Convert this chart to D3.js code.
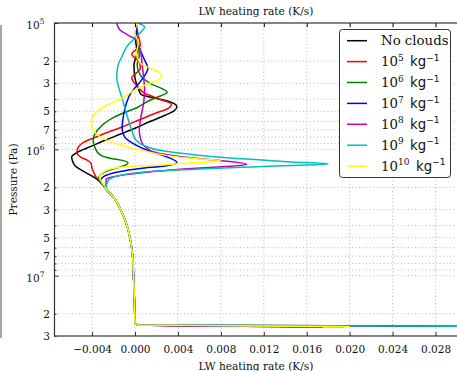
<!DOCTYPE html>
<html>
<head>
<meta charset="utf-8">
<script src="https://cdn.jsdelivr.net/npm/d3@7"></script>
<style>
  body { margin: 0; background: #fff; }
  svg { display: block; font-family: "DejaVu Serif", serif; }
</style>
</head>
<body>
<svg width="457" height="371"></svg>
<script>
// Each profile: [pressure (Pa), LW heating rate (K/s)], top to bottom
const noClouds = [[1.0e5, 0.0001], [1.36e5, 0.00005], [1.70e5, 0.0002], [2.15e5, -0.0001], [2.73e5, 0.0],
  [3.28e5, 0.0003], [3.66e5, 0.00055], [3.94e5, 0.0019], [4.16e5, 0.0031], [4.6e5, 0.0039], [4.99e5, 0.0036],
  [5.37e5, 0.0028], [6.02e5, 0.0014], [6.81e5, 0.0], [7.6e5, -0.0014], [8.48e5, -0.0028], [9.38e5, -0.004],
  [1.037e6, -0.0052], [1.15e6, -0.0059], [1.25e6, -0.0058], [1.34e6, -0.0056], [1.509e6, -0.0047],
  [1.70e6, -0.00365], [1.83e6, -0.0032]];
const cloud1e5 = [[1.0e5, 0.0001], [1.245e5, 0.0003], [1.495e5, 0.0005], [1.76e5, -0.0003], [2.04e5, 0.0004],
  [2.28e5, 0.0005], [2.73e5, -0.0003], [3.16e5, 0.0002], [3.59e5, 0.0009], [4.01e5, 0.0023], [4.4e5, 0.0034],
  [4.73e5, 0.0031], [5.18e5, 0.0019], [5.89e5, 0.0003], [6.65e5, -0.0012], [7.46e5, -0.0028], [8.03e5, -0.0037],
  [8.79e5, -0.0048], [9.64e5, -0.0053], [1.057e6, -0.0054], [1.147e6, -0.0051], [1.211e6, -0.0045],
  [1.291e6, -0.0041], [1.415e6, -0.004], [1.549e6, -0.0038], [1.668e6, -0.0036], [1.762e6, -0.0033]];
const cloud1e6 = [[1.0e5, 0.0001], [1.36e5, 0.0002], [1.795e5, 0.0004], [2.15e5, 0.0002], [2.59e5, 0.0005],
  [3.0e5, 0.0014], [3.34e5, 0.0026], [3.53e5, 0.003], [3.8e5, 0.0023], [4.085e5, 0.0014], [4.62e5, 0.0003],
  [5.54e5, -0.0019], [7.07e5, -0.0035], [8.48e5, -0.0039], [9.82e5, -0.0037], [1.096e6, -0.0033],
  [1.178e6, -0.0023], [1.222e6, -0.0012], [1.28e6, -0.00065], [1.364e6, -0.0012], [1.468e6, -0.0025],
  [1.579e6, -0.0032], [1.70e6, -0.0034]];
const cloud1e7 = [[1.0e5, 0.0001], [1.36e5, 0.0002], [1.64e5, 0.0005], [1.97e5, 0.0009], [2.28e5, 0.0012],
  [2.68e5, 0.0008], [3.05e5, 0.0003], [3.59e5, -0.0004], [4.32e5, -0.0008], [5.57e5, -0.0011], [6.81e5, -0.0012],
  [7.88e5, -0.001], [8.96e5, -0.0002], [1.037e6, 0.0014], [1.157e6, 0.0031], [1.268e6, 0.0039], [1.352e6, 0.0028],
  [1.415e6, 0.0005], [1.509e6, -0.0016], [1.638e6, -0.0029], [1.762e6, -0.0032]];
const cloud1e8 = [[1.0e5, -0.0017], [1.137e5, -0.0014], [1.245e5, -0.00065], [1.364e5, 0.0001], [1.637e5, 0.0005],
  [2.077e5, 0.00065], [2.683e5, 0.0008], [3.40e5, 0.0009], [4.315e5, 0.0008], [5.57e5, 0.00055], [7.07e5, 0.0004],
  [8.48e5, 0.00055], [1.018e6, 0.0014], [1.147e6, 0.0045], [1.222e6, 0.0077], [1.315e6, 0.0104], [1.377e6, 0.0077],
  [1.428e6, 0.0045], [1.509e6, 0.0014], [1.608e6, -0.0014], [1.73e6, -0.0027]];
const cloud1e9 = [[1.0e5, 0.0003], [1.076e5, 0.0009], [1.179e5, 0.00055], [1.291e5, 0.0001], [1.495e5, -0.00065],
  [1.828e5, -0.0012], [2.194e5, -0.0016], [2.683e5, -0.0017], [3.28e5, -0.0015], [3.94e5, -0.0012],
  [5.37e5, -0.00075], [7.07e5, -0.0003], [8.48e5, 0.0001], [9.38e5, 0.0009], [1.018e6, 0.0023], [1.116e6, 0.0061],
  [1.20e6, 0.0108], [1.257e6, 0.0145], [1.303e6, 0.018], [1.34e6, 0.0145], [1.377e6, 0.0108], [1.428e6, 0.0061],
  [1.495e6, 0.0014], [1.608e6, -0.0014], [1.762e6, -0.0025]];
const cloud1e10 = [[1.0e5, 0.00015], [1.20e5, 0.0], [1.441e5, 0.0003], [1.73e5, 0.00015], [2.077e5, 0.0005],
  [2.276e5, 0.0014], [2.448e5, 0.0022], [2.587e5, 0.0025], [2.835e5, 0.0021], [3.107e5, 0.0009],
  [3.497e5, -0.0003], [3.94e5, -0.0012], [4.56e5, -0.0028], [5.18e5, -0.0037], [6.10e5, -0.0041],
  [7.20e5, -0.0038], [8.33e5, -0.0028], [9.29e5, -0.0012], [1.018e6, 0.00065], [1.116e6, 0.0029],
  [1.178e6, 0.0052], [1.233e6, 0.008], [1.291e6, 0.0045], [1.34e6, 0.0014], [1.364e6, -0.0005],
  [1.428e6, -0.0023], [1.549e6, -0.0031], [1.638e6, -0.0033]];
// lower atmosphere, the same for every case
const lowerLevels = [[2.04e6, -0.0027], [2.45e6, -0.0019], [3.05e6, -0.0013], [3.8e6, -0.00084], [5.0e6, -0.00047],
  [6.9e6, -0.00023], [1.0e7, -0.00014], [1.58e7, -0.00005], [2.36e7, 0.0], [2.45e7, 0.0002]];
// value at the lowest level (surface spike)
const surfacePressure = 2.54e7;
const surfaceRates = [0.04, 0.0175, 0.0195, 0.0175, 0.0175, 0.04, 0.020];

const profiles = [noClouds, cloud1e5, cloud1e6, cloud1e7, cloud1e8, cloud1e9, cloud1e10];
const exponents = [null, 5, 6, 7, 8, 9, 10];
const colors = ["#000000", "#ff0000", "#008000", "#0000ff", "#bf00bf", "#00bfbf", "#ffff00"];
const xTicks = [-0.004, 0.000, 0.004, 0.008, 0.012, 0.016, 0.020, 0.024, 0.028];

const svg = d3.select("svg");
const plotL = 54.5, plotR = 457, plotT = 23, plotB = 336;

let x = d3.scaleLinear().domain([-0.0075, 0.030]).range([plotL, plotR]);
let y = d3.scaleLog().domain([1e5, 3e7]).range([plotT, plotB]);
let yTicks = y.ticks();
let mant = d => Math.round(d / Math.pow(10, Math.floor(Math.log10(d) + 1e-9)));

// odd grey bar on the far left of the figure
svg.append("line")
  .attr("x1", 1).attr("x2", 1).attr("y1", 25).attr("y2", 338)
  .attr("stroke", "#888").attr("stroke-width", 1.5);

// dotted grid
let grid = svg.append("g")
  .attr("stroke", "#b8b8b8").attr("stroke-width", 1).attr("stroke-dasharray", "1,2.5");
grid.selectAll(".gx").data(xTicks).join("line")
  .attr("x1", d => x(d)).attr("x2", d => x(d)).attr("y1", plotT).attr("y2", plotB);
grid.selectAll(".gy").data(yTicks.filter(d => d > 1e5 && d < 3e7)).join("line")
  .attr("x1", plotL).attr("x2", plotR).attr("y1", d => y(d)).attr("y2", d => y(d));

// profiles
svg.append("clipPath").attr("id", "clip")
  .append("rect").attr("x", plotL).attr("y", plotT).attr("width", plotR - plotL).attr("height", plotB - plotT);

let line = d3.line()
  .x(d => x(d[1]))
  .y(d => y(d[0]))
  .curve(d3.curveMonotoneY);

let series = profiles.map((p, i) => p.concat(lowerLevels, [[surfacePressure, surfaceRates[i]]]));

svg.append("g").attr("clip-path", "url(#clip)")
  .selectAll("path").data(series).join("path")
  .attr("fill", "none")
  .attr("stroke", (d, i) => colors[i])
  .attr("stroke-width", 1.5)
  .attr("d", line);

// axes (ticks point inward)
let fmtX = d => (d < 0 ? "\u2212" : "") + Math.abs(d).toFixed(3);
let xAxis = svg.append("g").attr("transform", "translate(0," + plotB + ")")
  .call(d3.axisBottom(x).tickValues(xTicks).tickSize(-4).tickSizeOuter(0).tickPadding(10).tickFormat(fmtX));
svg.append("g").attr("transform", "translate(0," + plotT + ")")
  .call(d3.axisTop(x).tickValues(xTicks).tickSize(-4).tickSizeOuter(0).tickFormat(""));

let yAxis = svg.append("g").attr("transform", "translate(" + plotL + ",0)")
  .call(d3.axisLeft(y).tickValues(yTicks).tickSize(-2).tickSizeOuter(0).tickPadding(4.5)
    .tickFormat(d => [2, 3, 5, 7].includes(mant(d)) ? String(mant(d)) : ""));
yAxis.selectAll(".tick line").attr("x2", d => mant(d) === 1 ? 4 : 2);
yAxis.selectAll(".tick text").filter(d => mant(d) === 1).each(function(d) {
  let t = d3.select(this).text("").attr("x", -10).attr("dy", null);
  t.append("tspan").attr("dy", 5.3).text("10");
  t.append("tspan").attr("dy", -4.8).attr("font-size", 7.5).text(Math.round(Math.log10(d)));
});

svg.selectAll(".domain").remove();
for (let g of [xAxis, yAxis]) {
  g.attr("font-family", "DejaVu Serif").attr("font-size", 10.5);
  g.selectAll(".tick text").attr("fill", "#111");
  g.selectAll(".tick line").attr("stroke", "#333");
}

// frame
svg.append("rect")
  .attr("x", plotL).attr("y", plotT).attr("width", plotR - plotL + 2).attr("height", plotB - plotT)
  .attr("fill", "none").attr("stroke", "#333").attr("stroke-width", 1.2);

// titles
svg.append("text").attr("x", 256).attr("y", 15).attr("text-anchor", "middle")
  .attr("font-size", 10.6).attr("fill", "#111").text("LW heating rate (K/s)");
svg.append("text").attr("x", 256).attr("y", 370).attr("text-anchor", "middle")
  .attr("font-size", 10.6).attr("fill", "#111").text("LW heating rate (K/s)");
svg.append("text").attr("transform", "translate(17,179.5) rotate(-90)").attr("text-anchor", "middle")
  .attr("font-size", 10.6).attr("fill", "#111").text("Pressure (Pa)");

// legend
let legend = svg.append("g");
legend.append("rect")
  .attr("x", 339.5).attr("y", 29.5).attr("width", 111).attr("height", 148).attr("rx", 3)
  .attr("fill", "#fff").attr("stroke", "#333").attr("stroke-width", 1);

let rows = legend.selectAll("g.row").data(exponents).join("g")
  .attr("transform", (d, i) => "translate(0," + (40.7 + i * 20.9) + ")");
rows.append("line")
  .attr("x1", 347).attr("x2", 367).attr("y1", 0).attr("y2", 0)
  .attr("stroke", (d, i) => colors[i]).attr("stroke-width", 1.5);
rows.append("text")
  .attr("x", 381).attr("y", 4.6).attr("font-size", 13.3).attr("fill", "#111")
  .each(function(e) {
    let t = d3.select(this);
    if (e === null) { t.text("No clouds"); return; }
    t.append("tspan").text("10");
    t.append("tspan").attr("dy", -5.5).attr("font-size", 9).text(e);
    t.append("tspan").attr("x", e >= 10 ? 416 : 410).attr("dy", 5.5)
      .attr("font-family", "DejaVu Sans").text("kg");
    t.append("tspan").attr("dy", -5.5).attr("font-size", 9)
      .attr("font-family", "DejaVu Sans").text("\u22121");
  });
</script>
</body>
</html>
